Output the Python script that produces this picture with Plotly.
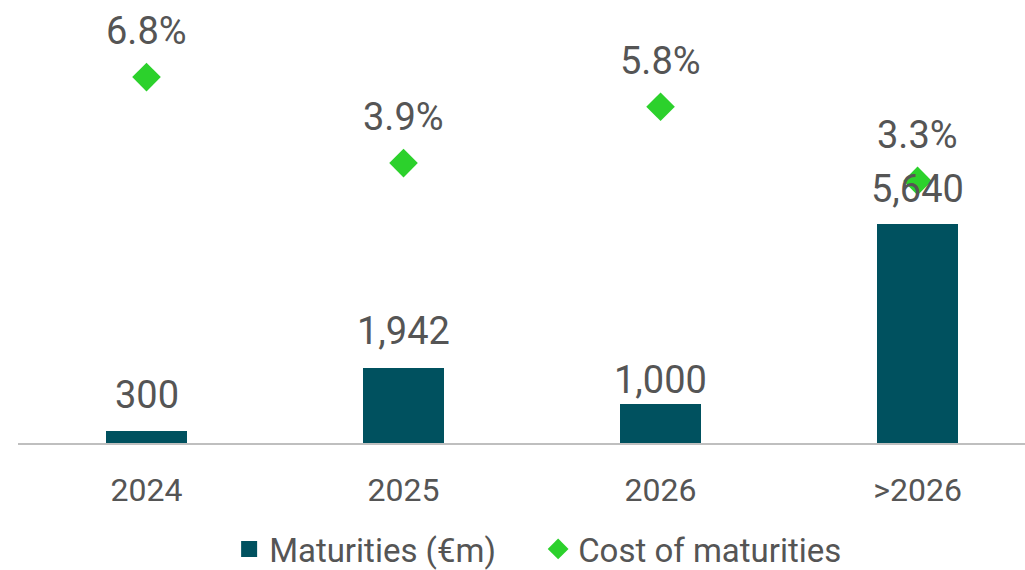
import plotly.graph_objects as go

categories = ["2024", "2025", "2026", ">2026"]
maturities = [300, 1942, 1000, 5640]          # €m
cost_pct = [6.8, 3.9, 5.8, 3.3]               # %

bar_color = "#00515F"
diamond_color = "#2CD12C"
text_color = "#555555"
font_family = "Roboto, Arial, sans-serif"

# vertical offset (px) of each bar's value label above the bar top
bar_label_shift = [36, 37, 24, 35]

fig = go.Figure()

fig.add_trace(go.Bar(
    x=categories, y=maturities, name="Maturities (€m)",
    marker=dict(color=bar_color, line=dict(width=0)),
    width=0.315, yaxis="y", showlegend=False,
))

# legend entry for the bars, drawn as a larger square swatch
fig.add_trace(go.Scatter(
    x=[None], y=[None], name="Maturities (€m)", mode="markers",
    marker=dict(symbol="square", size=17, color=bar_color, line=dict(width=0)),
    yaxis="y",
))

fig.add_trace(go.Scatter(
    x=categories, y=cost_pct, name="Cost of maturities",
    mode="markers",
    marker=dict(symbol="diamond", size=22, color=diamond_color, line=dict(width=0)),
    yaxis="y2",
))

# value labels; category positions given by index so numeric-looking
# category names are not misread as positions
annotations = []
for i, v in enumerate(maturities):
    annotations.append(dict(
        x=i, y=v, xref="x", yref="y", text=f"{v:,}", showarrow=False,
        yanchor="middle", yshift=bar_label_shift[i],
        font=dict(size=38, color=text_color, family=font_family),
    ))
for i, v in enumerate(cost_pct):
    annotations.append(dict(
        x=i, y=v, xref="x", yref="y2", text=f"{v:.1f}%", showarrow=False,
        yanchor="middle", yshift=46,
        font=dict(size=38, color=text_color, family=font_family),
    ))

fig.update_layout(
    width=1025, height=570,
    margin=dict(l=18, r=0, t=0, b=127),
    plot_bgcolor="white", paper_bgcolor="white",
    font=dict(family=font_family, color=text_color, size=32),
    bargap=0,
    showlegend=True,
    legend=dict(
        orientation="h", x=0.525, xanchor="center", xref="container",
        y=1 - 549 / 570, yanchor="middle", yref="container",
        font=dict(size=33, color=text_color, family=font_family),
        itemwidth=30, itemsizing="trace",
        entrywidth=264, entrywidthmode="pixels",
        tracegroupgap=0,
        bgcolor="rgba(0,0,0,0)",
    ),
    xaxis=dict(
        type="category", range=[-0.5, 3.418],
        showgrid=False, zeroline=False,
        showline=True, linecolor="#BFBFBF", linewidth=2,
        ticks="", tickfont=dict(size=32, color=text_color),
        ticklabelstandoff=18,
    ),
    yaxis=dict(
        range=[0, 11430], showgrid=False, zeroline=False,
        showticklabels=False, showline=False,
    ),
    yaxis2=dict(
        range=[-5.54, 9.40], overlaying="y", side="right",
        showgrid=False, zeroline=False, showticklabels=False, showline=False,
    ),
    annotations=annotations,
)

fig.write_html("out.html")
